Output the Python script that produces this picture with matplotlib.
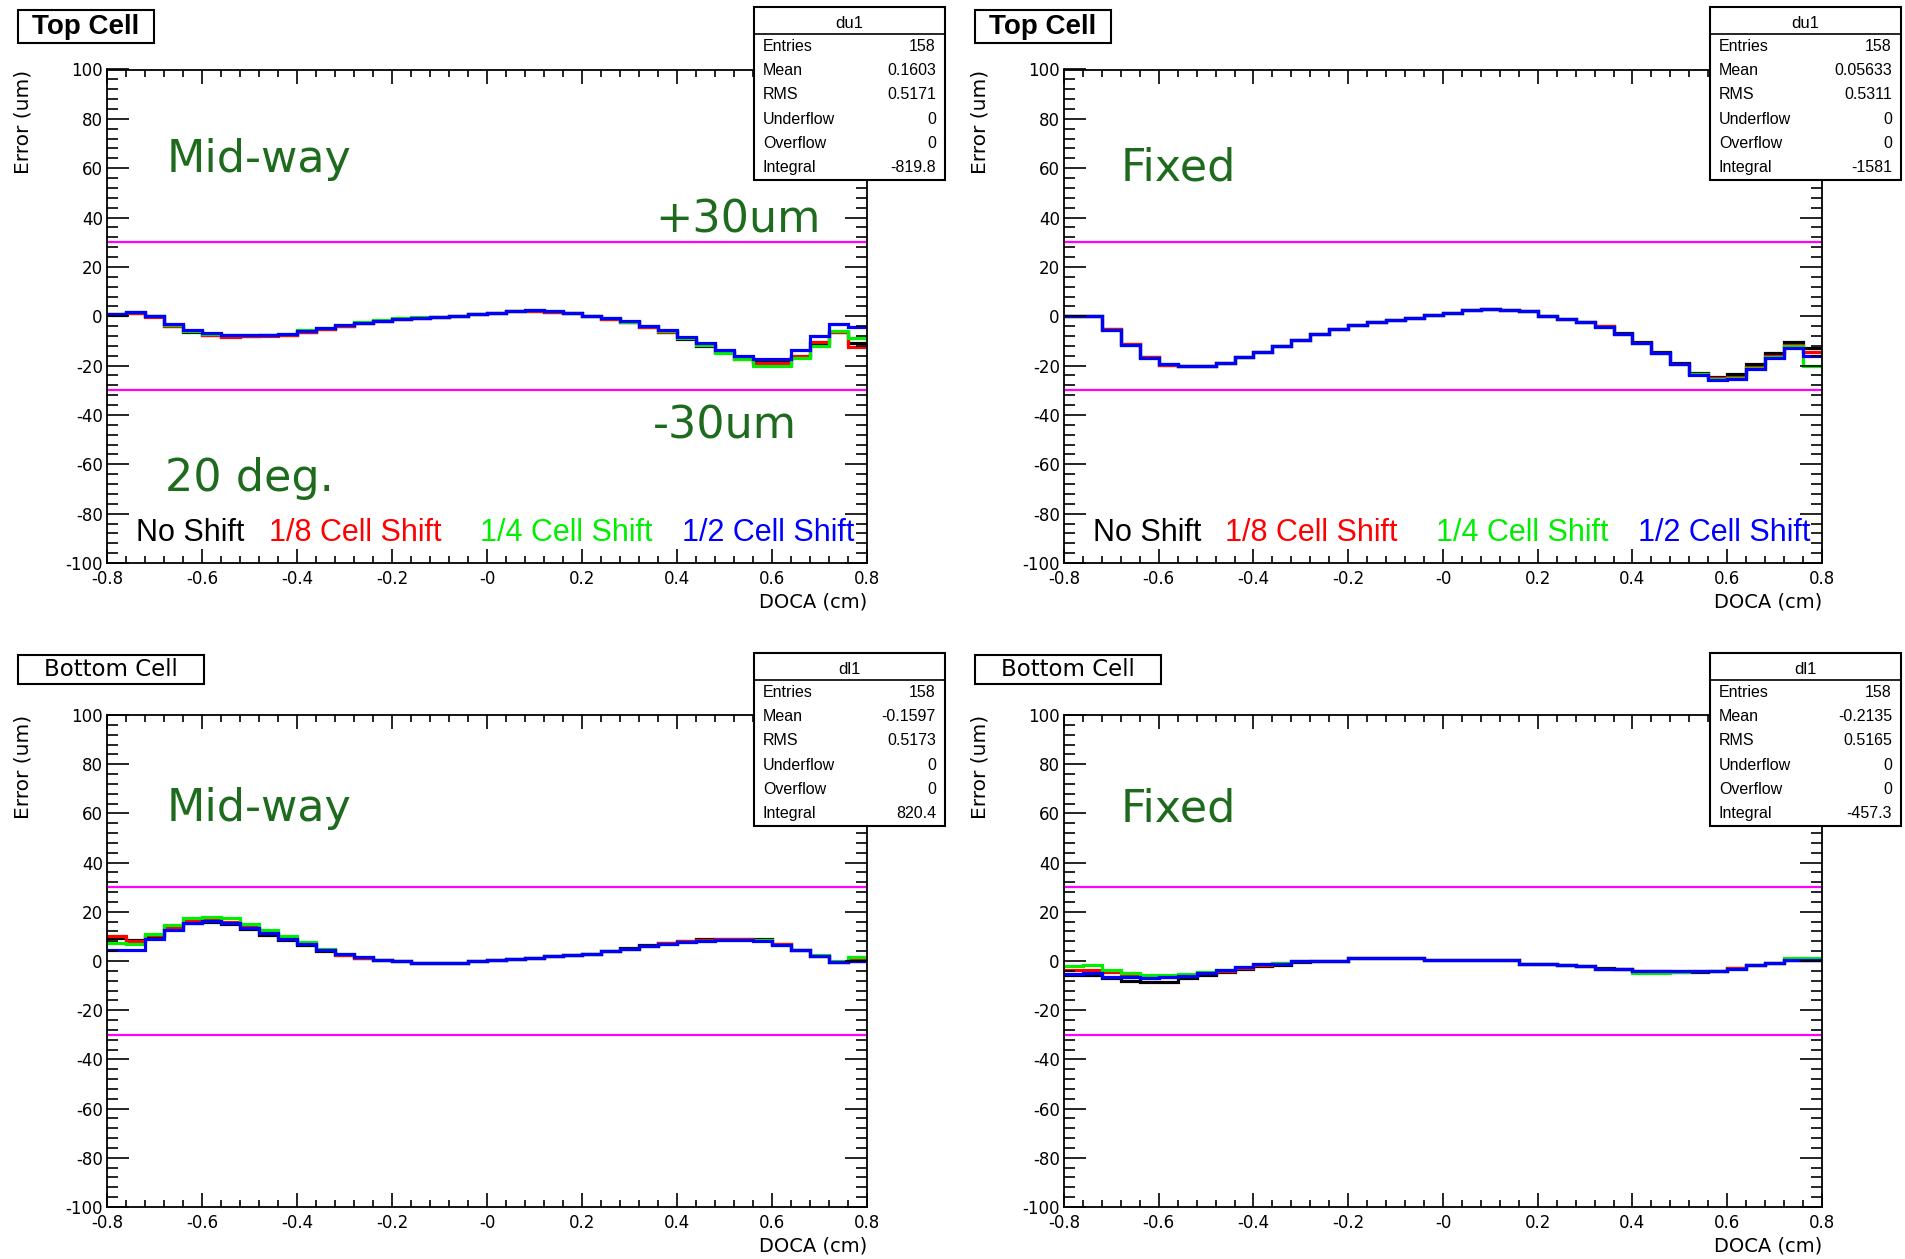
import numpy as np
import matplotlib.pyplot as plt
from matplotlib.patches import Rectangle
from matplotlib.ticker import MultipleLocator, FixedLocator, FixedFormatter

plt.rcParams['axes.unicode_minus'] = False

W, H = 1906, 1259

# DOCA binning (cm)
edges = np.linspace(-0.8, 0.8, 41)

shift_names = ['No Shift', '1/8 Cell Shift', '1/4 Cell Shift', '1/2 Cell Shift']
shift_colors = ['black', '#ff0000', '#00ee00', '#0000ff']

xtick_labels = ['-0.8', '-0.6', '-0.4', '-0.2', '-0', '0.2', '0.4', '0.6', '0.8']

# residual error (um) per DOCA bin, top cell, mid-way
top_mid_noshift = [0.5, 1.2, 0.0, -3.8, -6.2, -7.8, -8.0, -8.0, -7.8, -7.6, -6.5, -5.0, -4.0, -2.8, -1.8, -1.0,
                   -0.6, -0.2, 0.3, 0.8, 1.4, 2.0, 2.2, 1.6, 1.2, 0.2, -1.0, -2.5, -4.5, -6.5, -9.2, -12.0,
                   -14.5, -17.0, -18.5, -18.5, -16.5, -11.0, -6.5, -11.0]
top_mid_eighth = [0.8, 1.5, -0.3, -4.0, -6.0, -7.6, -8.3, -8.2, -8.0, -7.4, -6.2, -5.0, -3.8, -2.7, -1.8, -1.0,
                  -0.6, -0.2, 0.3, 0.8, 1.4, 2.0, 2.3, 1.8, 1.3, 0.2, -1.0, -2.3, -4.3, -6.3, -9.0, -11.8,
                  -14.5, -17.2, -18.8, -18.8, -16.0, -10.5, -6.3, -12.5]
top_mid_quarter = [0.8, 1.6, 0.0, -3.5, -5.8, -7.2, -7.8, -7.8, -7.6, -7.0, -5.6, -4.6, -3.5, -2.4, -1.6, -0.9,
                   -0.5, -0.2, 0.3, 0.8, 1.4, 2.0, 2.4, 2.1, 1.5, 0.3, -0.8, -2.2, -4.0, -6.0, -9.0, -11.8,
                   -14.8, -17.5, -20.0, -20.3, -17.0, -12.0, -6.0, -9.0]
top_mid_half = [1.0, 1.8, 0.0, -3.3, -5.5, -6.8, -7.5, -7.8, -7.8, -7.2, -5.8, -4.8, -3.7, -2.6, -1.8, -1.0,
                -0.6, -0.2, 0.3, 0.8, 1.4, 2.0, 2.4, 2.0, 1.4, 0.3, -0.8, -2.0, -3.8, -5.6, -8.4, -11.0,
                -13.6, -16.2, -17.5, -17.3, -13.5, -8.0, -3.3, -4.5]

# top cell, fixed
top_fix_noshift = [0.3, 0.0, -5.0, -11.2, -16.5, -19.8, -20.2, -20.2, -19.0, -16.5, -14.5, -12.2, -9.8, -7.2, -5.3, -3.5,
                   -2.5, -1.7, -0.8, 0.4, 1.5, 2.5, 3.0, 2.6, 2.0, 0.3, -1.0, -2.3, -3.8, -6.8, -10.5, -14.5,
                   -19.0, -23.0, -24.5, -23.5, -19.5, -15.0, -10.5, -13.0]
top_fix_eighth = [0.3, 0.0, -5.3, -11.4, -16.7, -19.6, -20.2, -20.2, -19.0, -16.5, -14.5, -12.2, -9.8, -7.2, -5.3, -3.5,
                  -2.5, -1.7, -0.8, 0.4, 1.5, 2.5, 3.0, 2.6, 2.0, 0.3, -1.0, -2.3, -4.0, -7.0, -10.8, -14.8,
                  -19.3, -23.4, -25.0, -24.5, -20.5, -16.0, -11.5, -14.5]
top_fix_quarter = [0.3, 0.0, -5.4, -11.5, -16.8, -19.5, -20.2, -20.2, -19.0, -16.5, -14.5, -12.2, -9.8, -7.2, -5.3, -3.5,
                   -2.5, -1.7, -0.8, 0.4, 1.5, 2.5, 3.0, 2.6, 2.0, 0.3, -1.0, -2.3, -4.2, -7.2, -11.0, -15.0,
                   -19.5, -23.6, -25.5, -25.0, -21.0, -16.5, -12.0, -20.0]
top_fix_half = [0.3, 0.0, -5.5, -11.5, -16.8, -19.5, -20.2, -20.2, -19.0, -16.5, -14.5, -12.2, -9.8, -7.2, -5.3, -3.5,
                -2.5, -1.7, -0.8, 0.4, 1.5, 2.5, 3.0, 2.6, 2.0, 0.3, -1.0, -2.3, -4.2, -7.2, -11.0, -15.0,
                -19.5, -23.8, -25.8, -25.5, -21.5, -17.0, -13.0, -16.0]

# bottom cell, mid-way
bot_mid_noshift = [9.5, 8.5, 10.0, 13.0, 15.5, 15.8, 15.0, 13.0, 10.5, 8.5, 6.5, 4.0, 2.5, 1.4, 0.5, 0.0,
                   -0.9, -1.0, -1.0, -0.2, 0.4, 0.9, 1.4, 1.9, 2.3, 3.0, 4.0, 5.2, 6.4, 7.4, 8.3, 9.0,
                   9.0, 9.0, 8.8, 6.8, 4.5, 2.0, -0.3, 0.2]
bot_mid_eighth = [10.0, 8.0, 10.5, 13.8, 16.5, 16.8, 16.0, 13.8, 11.5, 9.0, 7.2, 4.5, 2.6, 1.4, 0.4, -0.2,
                  -0.9, -1.0, -1.0, -0.2, 0.4, 0.9, 1.4, 1.9, 2.3, 3.0, 4.0, 5.0, 6.2, 7.2, 8.0, 8.6,
                  8.8, 8.8, 8.6, 6.8, 4.6, 2.2, -0.3, 0.5]
bot_mid_quarter = [7.5, 7.0, 11.0, 14.5, 17.3, 18.0, 17.3, 15.0, 12.5, 10.0, 7.8, 5.0, 3.0, 1.6, 0.5, 0.0,
                   -0.9, -1.0, -1.0, -0.2, 0.4, 0.9, 1.4, 1.9, 2.3, 3.0, 4.0, 5.0, 6.0, 7.0, 7.8, 8.3,
                   8.5, 8.5, 8.4, 6.6, 4.5, 2.3, 0.0, 1.5]
bot_mid_half = [4.5, 4.5, 9.0, 12.8, 15.5, 16.2, 15.5, 13.3, 11.2, 9.0, 7.0, 4.3, 2.8, 1.5, 0.5, 0.0,
                -0.9, -1.0, -1.0, -0.2, 0.4, 0.9, 1.4, 1.9, 2.3, 3.0, 4.0, 5.0, 6.0, 7.0, 7.8, 8.3,
                8.4, 8.4, 8.3, 6.5, 4.3, 2.0, -0.5, 0.0]

# bottom cell, fixed
bot_fix_noshift = [-5.5, -5.5, -7.0, -8.0, -8.5, -8.5, -7.0, -5.5, -4.5, -3.2, -2.0, -1.5, -0.3, 0.0, 0.0, 1.35,
                   1.35, 1.35, 1.35, 0.3, 0.3, 0.3, 0.3, 0.3, -1.1, -1.1, -1.5, -2.0, -3.0, -3.3, -4.0, -4.2,
                   -4.3, -4.3, -4.2, -3.0, -1.6, -1.0, 0.3, 0.3]
bot_fix_eighth = [-3.5, -3.5, -4.5, -6.0, -6.5, -6.5, -6.0, -5.0, -4.0, -2.7, -1.5, -1.0, 0.0, 0.0, 0.0, 1.35,
                  1.35, 1.35, 1.35, 0.3, 0.3, 0.3, 0.3, 0.3, -1.1, -1.1, -1.5, -2.0, -3.1, -3.1, -4.0, -4.0,
                  -4.0, -4.0, -4.0, -3.0, -1.7, -0.8, 0.3, 0.3]
bot_fix_quarter = [-2.0, -1.5, -3.5, -4.8, -5.5, -5.5, -5.3, -4.3, -3.5, -2.3, -1.3, -0.8, 0.0, 0.0, 0.0, 1.35,
                   1.35, 1.35, 1.35, 0.3, 0.3, 0.3, 0.3, 0.3, -1.1, -1.1, -1.5, -2.0, -3.3, -3.3, -4.7, -4.7,
                   -4.3, -4.0, -4.0, -3.1, -1.8, -0.8, 1.1, 1.1]
bot_fix_half = [-5.4, -4.7, -6.7, -6.7, -7.0, -6.5, -6.0, -4.7, -3.8, -2.5, -1.1, -1.1, 0.0, 0.0, 0.0, 1.35,
                1.35, 1.35, 1.35, 0.3, 0.3, 0.3, 0.3, 0.3, -1.1, -1.1, -1.5, -2.0, -3.1, -3.1, -4.0, -4.0,
                -4.0, -4.0, -4.0, -3.1, -1.8, -1.0, 0.3, 0.3]

# stat box contents
stat_names = ['Entries', 'Mean', 'RMS', 'Underflow', 'Overflow', 'Integral']
stats_top_mid = ['158', '0.1603', '0.5171', '0', '0', '-819.8']
stats_top_fix = ['158', '0.05633', '0.5311', '0', '0', '-1581']
stats_bot_mid = ['158', '-0.1597', '0.5173', '0', '0', '820.4']
stats_bot_fix = ['158', '-0.2135', '0.5165', '0', '0', '-457.3']

tolerance = 30  # um

dark_green = '#1e6b1e'
stat_font = ['Liberation Sans Narrow', 'Liberation Sans']


def fx(x):
    return x / W


def fy(y):
    return 1 - y / H


# pixel layout: (axes x0, x1, y0, y1), stat box origin, cell label box
panels = [
    dict(box=(107, 867, 69.5, 563), series=[top_mid_noshift, top_mid_eighth, top_mid_quarter, top_mid_half],
         hname='du1', stats=stats_top_mid, sx=754, sy=7, cell='Top Cell', method='Mid-way', legend=True),
    dict(box=(1064, 1822, 69.5, 563), series=[top_fix_noshift, top_fix_eighth, top_fix_quarter, top_fix_half],
         hname='du1', stats=stats_top_fix, sx=1710, sy=7, cell='Top Cell', method='Fixed', legend=True),
    dict(box=(107, 867, 715, 1207), series=[bot_mid_noshift, bot_mid_eighth, bot_mid_quarter, bot_mid_half],
         hname='dl1', stats=stats_bot_mid, sx=754, sy=653, cell='Bottom Cell', method='Mid-way', legend=False),
    dict(box=(1064, 1822, 715, 1207), series=[bot_fix_noshift, bot_fix_eighth, bot_fix_quarter, bot_fix_half],
         hname='dl1', stats=stats_bot_fix, sx=1710, sy=653, cell='Bottom Cell', method='Fixed', legend=False),
]

fig = plt.figure(figsize=(W / 100, H / 100), dpi=100)
fig.patch.set_facecolor('white')

for p in panels:
    x0, x1, y0, y1 = p['box']
    ax = fig.add_axes([fx(x0), fy(y1), (x1 - x0) / W, (y1 - y0) / H])
    for vals, col in zip(p['series'], shift_colors):
        ax.stairs(vals, edges, baseline=None, color=col, lw=2.3)
    ax.axhline(tolerance, color='#ff00ff', lw=1.6)
    ax.axhline(-tolerance, color='#ff00ff', lw=1.6)

    ax.set_xlim(-0.8, 0.8)
    ax.set_ylim(-100, 100)
    ax.xaxis.set_major_locator(FixedLocator(np.linspace(-0.8, 0.8, 9)))
    ax.xaxis.set_major_formatter(FixedFormatter(xtick_labels))
    ax.xaxis.set_minor_locator(MultipleLocator(0.04))
    ax.yaxis.set_major_locator(MultipleLocator(20))
    ax.yaxis.set_minor_locator(MultipleLocator(4))
    ax.tick_params(which='both', direction='in', top=True, right=True, width=1.2)
    ax.tick_params(axis='x', which='major', length=10, labelsize=12, pad=5)
    ax.tick_params(axis='x', which='minor', length=5)
    ax.tick_params(axis='y', which='major', length=16, labelsize=12, pad=3)
    ax.tick_params(axis='y', which='minor', length=8)
    for s in ax.spines.values():
        s.set_linewidth(1.3)

    ax.text(1.0, -0.079, 'DOCA (cm)', transform=ax.transAxes, ha='right', va='center', fontsize=14)
    ax.text(-0.111, 1.0, 'Error (um)', transform=ax.transAxes, rotation=90, ha='center', va='top', fontsize=14.5)

    top = p['legend']
    if p['method'] == 'Mid-way':
        ax.text(0.078, 0.793 if top else 0.785, 'Mid-way', transform=ax.transAxes, fontsize=32,
                color=dark_green, va='baseline')
    else:
        ax.text(0.075, 0.775 if top else 0.783, 'Fixed', transform=ax.transAxes, fontsize=32,
                color=dark_green, va='baseline')

    if top and p['method'] == 'Mid-way':
        ax.text(0.722, 0.669, '+30um', transform=ax.transAxes, fontsize=32, color=dark_green, va='baseline')
        ax.text(0.718, 0.253, '-30um', transform=ax.transAxes, fontsize=32, color=dark_green, va='baseline')
        ax.text(0.076, 0.146, '20 deg.', transform=ax.transAxes, fontsize=32, color=dark_green, va='baseline')

    if top:
        tr = ax.get_yaxis_transform()
        for name, col, xa in zip(shift_names, shift_colors, [0.038, 0.213, 0.491, 0.757]):
            ax.text(xa, -88, name, transform=tr, color=col, fontsize=22, va='center',
                    family=['Liberation Sans', 'DejaVu Sans'])

    # statistics box
    sx, sy = p['sx'], p['sy']
    bw, bh, hh = 191, 173, 27
    fig.add_artist(Rectangle((fx(sx), fy(sy + bh)), bw / W, bh / H, transform=fig.transFigure,
                             facecolor='white', edgecolor='black', lw=1.5, zorder=5))
    fig.add_artist(plt.Line2D([fx(sx), fx(sx + bw)], [fy(sy + hh), fy(sy + hh)], transform=fig.transFigure,
                              color='black', lw=1.2, zorder=6))
    fig.text(fx(sx + bw / 2), fy(sy + 16), p['hname'], ha='center', va='center', fontsize=12,
             family=stat_font, zorder=7)
    rh = (bh - hh) / 6
    for i, (nm, val) in enumerate(zip(stat_names, p['stats'])):
        yc = sy + hh + (i + 0.5) * rh
        fig.text(fx(sx + 9), fy(yc), nm, ha='left', va='center', fontsize=11.5,
                 family=stat_font, zorder=7)
        fig.text(fx(sx + bw - 9), fy(yc), val, ha='right', va='center', fontsize=11.5,
                 family=stat_font, zorder=7)

    # cell label box
    cx = x0 - 89
    if p['cell'] == 'Top Cell':
        cy, cw, ch = 10, 136, 33
        fs, fw, fam = 20, 'bold', ['Liberation Sans', 'DejaVu Sans']
    else:
        cy, cw, ch = 655, 186, 29
        fs, fw, fam = 16.5, 'normal', ['DejaVu Sans']
    fig.add_artist(Rectangle((fx(cx), fy(cy + ch)), cw / W, ch / H, transform=fig.transFigure,
                             facecolor='white', edgecolor='black', lw=1.5, zorder=5))
    fig.text(fx(cx + cw / 2), fy(cy + ch / 2), p['cell'], ha='center', va='center', fontsize=fs,
             fontweight=fw, family=fam, zorder=7)

fig.savefig('out.png', dpi=100)
